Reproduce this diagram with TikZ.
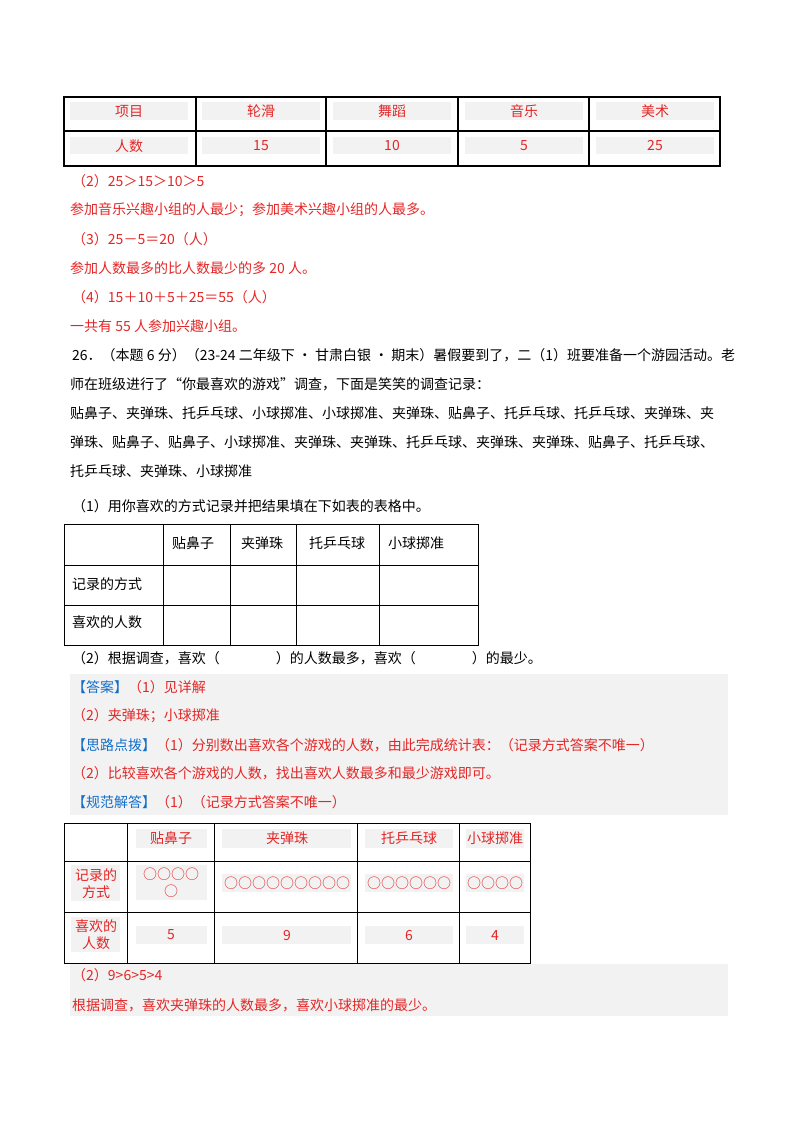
\documentclass[tikz,border=0pt]{standalone}
\usepackage{fontspec}
\setmainfont{Noto Sans CJK SC}
\definecolor{ans}{RGB}{228,38,38}
\definecolor{lab}{RGB}{20,110,200}
\definecolor{lightg}{RGB}{242,242,242}
\tikzset{
 txt/.style={anchor=west,inner sep=0pt,font=\fontsize{14}{14}\selectfont},
 rtxt/.style={txt,text=ans},
 ctr/.style={anchor=center,inner sep=0pt,font=\fontsize{14}{14}\selectfont},
 rctr/.style={ctr,text=ans},
 grid/.style={draw=black,line width=1.1pt},
 thin/.style={draw=black,line width=0.7pt}
}
\begin{document}
\begin{tikzpicture}[x=1pt,y=-1pt]
\useasboundingbox (0,0) rectangle (800,1132);
% top table
\foreach \a/\b in {70/188,202/320,333/451,465/583,596/714}{
 \fill[lightg] (\a,102) rectangle (\b,120);
 \fill[lightg] (\a,137) rectangle (\b,154);}
\draw[grid] (64,97) rectangle (720,166);
\draw[grid] (64,131) -- (720,131);
\foreach \x in {196,326,458,589} \draw[grid] (\x,97) -- (\x,166);
\node[rctr] (h1) at (129,111) {项目};
\node[rctr] (h2) at (261,111) {轮滑};
\node[rctr] (h3) at (392,111) {舞蹈};
\node[rctr] (h4) at (524,111) {音乐};
\node[rctr] (h5) at (655,111) {美术};
\node[rctr] (v1) at (129,146) {人数};
\node[rctr] (v2) at (261,146) {15};
\node[rctr] (v3) at (392,146) {10};
\node[rctr] (v4) at (524,146) {5};
\node[rctr] (v5) at (655,146) {25};
\node[rtxt] (l1) at (72,181) {（2）25＞15＞10＞5};
\node[rtxt] (l2) at (70,210) {参加音乐兴趣小组的人最少；参加美术兴趣小组的人最多。};
\node[rtxt] (l3) at (72,239) {（3）25－5＝20（人）};
\node[rtxt] (l4) at (70,268) {参加人数最多的比人数最少的多 20 人。};
\node[rtxt] (l5) at (72,297) {（4）15＋10＋5＋25＝55（人）};
\node[rtxt] (l6) at (70,326) {一共有 55 人参加兴趣小组。};
% question
\node[txt] (q1) at (72,355) {26．（本题 6 分）（23-24 二年级下 • 甘肃白银 • 期末）暑假要到了，二（1）班要准备一个游园活动。老};
\node[txt] (q2) at (70,384) {师在班级进行了“你最喜欢的游戏”调查，下面是笑笑的调查记录：};
\node[txt] (q3) at (70,413) {贴鼻子、夹弹珠、托乒乓球、小球掷准、小球掷准、夹弹珠、贴鼻子、托乒乓球、托乒乓球、夹弹珠、夹};
\node[txt] (q4) at (70,442) {弹珠、贴鼻子、贴鼻子、小球掷准、夹弹珠、夹弹珠、托乒乓球、夹弹珠、夹弹珠、贴鼻子、托乒乓球、};
\node[txt] (q5) at (70,471) {托乒乓球、夹弹珠、小球掷准};
\node[txt] (q6) at (72,506) {（1）用你喜欢的方式记录并把结果填在下如表的表格中。};
% middle table
\draw[thin] (64,524) rectangle (478,645);
\draw[thin] (64,565) -- (478,565);
\draw[thin] (64,605) -- (478,605);
\foreach \x in {163,230,296,379} \draw[thin] (\x,524) -- (\x,645);
\node[ctr] (m1) at (193,543) {贴鼻子};
\node[ctr] (m2) at (262,543) {夹弹珠};
\node[ctr] (m3) at (337,543) {托乒乓球};
\node[ctr] (m4) at (416,543) {小球掷准};
\node[txt] (m5) at (72,584) {记录的方式};
\node[txt] (m6) at (72,622) {喜欢的人数};
\node[txt] (q7) at (72,658) {（2）根据调查，喜欢（\hspace{4em}）的人数最多，喜欢（\hspace{4em}）的最少。};
% answer block
\fill[lightg] (70,674) rectangle (728,815);
\node[rtxt] (a1) at (72,687) {\textcolor{lab}{【答案】}（1）见详解};
\node[rtxt] (a2) at (72,716) {（2）夹弹珠；小球掷准};
\node[rtxt] (a3) at (72,745) {\textcolor{lab}{【思路点拨】}（1）分别数出喜欢各个游戏的人数，由此完成统计表：（记录方式答案不唯一）};
\node[rtxt] (a4) at (72,773) {（2）比较喜欢各个游戏的人数，找出喜欢人数最多和最少游戏即可。};
\node[rtxt] (a5) at (72,802) {\textcolor{lab}{【规范解答】}（1）（记录方式答案不唯一）};
% bottom table
\fill[lightg] (136,829) rectangle (207,848);
\fill[lightg] (222,829) rectangle (351,848);
\fill[lightg] (365,829) rectangle (453,848);
\fill[lightg] (466,829) rectangle (524,848);
\fill[lightg] (71,865) rectangle (120,901);
\fill[lightg] (136,865) rectangle (207,900);
\fill[lightg] (222,874) rectangle (351,892);
\fill[lightg] (365,874) rectangle (453,892);
\fill[lightg] (466,874) rectangle (524,892);
\fill[lightg] (71,917) rectangle (120,952);
\foreach \a/\b in {136/207,222/351,365/453,466/524} \fill[lightg] (\a,926) rectangle (\b,944);
\draw[thin] (64,823) rectangle (530,963);
\draw[thin] (64,861) -- (530,861);
\draw[thin] (64,912) -- (530,912);
\foreach \x in {127,214,357,459} \draw[thin] (\x,823) -- (\x,963);
\node[rctr] (b1) at (171,838) {贴鼻子};
\node[rctr] (b2) at (287,838) {夹弹珠};
\node[rctr] (b3) at (409,838) {托乒乓球};
\node[rctr] (b4) at (495,838) {小球掷准};
\node[rctr,align=center,font=\fontsize{14}{17}\selectfont] (b5) at (96,884) {记录的\\方式};
\node[rctr,align=center,font=\fontsize{14}{17}\selectfont] (b6) at (96,935) {喜欢的\\人数};
\node[rctr,align=center,font=\fontsize{14}{17}\selectfont] (c1) at (171,883) {○○○○\\○};
\node[rctr] (c2) at (287,883) {○○○○○○○○○};
\node[rctr] (c3) at (409,883) {○○○○○○};
\node[rctr] (c4) at (495,883) {○○○○};
\node[rctr] (d1) at (171,935) {5};
\node[rctr] (d2) at (287,935) {9};
\node[rctr] (d3) at (409,935) {6};
\node[rctr] (d4) at (495,935) {4};
\fill[lightg] (70,964) rectangle (728,1016);
\node[rtxt] (e1) at (72,975) {（2）9>6>5>4};
\node[rtxt] (e2) at (72,1005) {根据调查，喜欢夹弹珠的人数最多，喜欢小球掷准的最少。};
\end{tikzpicture}
\end{document}
